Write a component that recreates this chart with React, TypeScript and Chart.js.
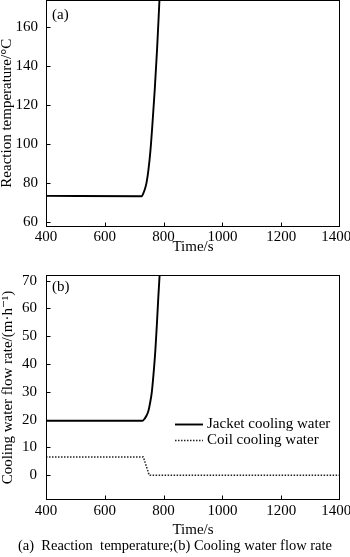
import React, { useEffect, useRef } from "react";
import { Chart, registerables } from "chart.js";
Chart.register(...registerables);

// ---- data ----
const timeTicks = [400, 600, 800, 1000, 1200, 1400];
const tempTicks = [60, 80, 100, 120, 140, 160];
const flowTicks = [0, 10, 20, 30, 40, 50, 60, 70];

const tempTime = [400, 725, 731, 737, 742, 748, 755, 762, 770, 778, 786];
const tempValues = [73.2, 73.0, 74.5, 77, 80, 86, 96, 110, 128, 149, 174];

const jacketTime = [400, 728, 735, 742, 748, 754, 760, 767, 772, 777, 782, 787];
const jacketValues = [19.6, 19.6, 20.3, 21.5, 23, 26, 30, 38, 45, 54, 64, 73];

const coilTime = [400, 731, 751, 1400];
const coilValues = [6.6, 6.6, 0, 0];

const caption = "(a)  Reaction  temperature;(b) Cooling water flow rate";

const FAMILY = "'Liberation Serif', 'Times New Roman', 'DejaVu Serif', serif";
const font15 = { family: FAMILY, size: 15, lineHeight: 1.2 };

const framePlugin = {
  id: "frame",
  afterDraw(chart: any, _args: any, opts: any) {
    const { ctx, chartArea, scales } = chart;
    const L = Math.round(chartArea.left) + 0.5;
    const R = Math.round(chartArea.right) - 0.5;
    const T = Math.round(chartArea.top) + 0.5;
    const B = Math.round(chartArea.bottom) - 0.5;
    ctx.save();
    ctx.strokeStyle = "#000";
    ctx.lineWidth = 1;
    ctx.strokeRect(L, T, R - L, B - T);
    ctx.beginPath();
    for (const t of scales.x.ticks) {
      const px = Math.min(R, Math.max(L, Math.round(scales.x.getPixelForValue(t.value)) + 0.5));
      ctx.moveTo(px, B);
      ctx.lineTo(px, B - 4);
    }
    for (const t of scales.y.ticks) {
      const py = Math.min(B, Math.max(T, Math.round(scales.y.getPixelForValue(t.value)) + 0.5));
      ctx.moveTo(L, py);
      ctx.lineTo(L + 4, py);
    }
    ctx.stroke();
    ctx.fillStyle = "#000";
    ctx.font = `15px ${FAMILY}`;
    ctx.textBaseline = "middle";
    ctx.textAlign = "left";
    if (opts.tag) ctx.fillText(opts.tag, chartArea.left + 6, chartArea.top + opts.tagDy);
    if (opts.legend) {
      const x0 = chartArea.left + 129;
      const x1 = chartArea.left + 157;
      let y = chartArea.top + 149;
      for (const ds of chart.data.datasets) {
        ctx.save();
        ctx.strokeStyle = ds.borderColor;
        ctx.lineWidth = ds.borderWidth;
        ctx.setLineDash(ds.borderDash || []);
        ctx.beginPath();
        ctx.moveTo(x0, Math.round(y) + 0.5);
        ctx.lineTo(x1, Math.round(y) + 0.5);
        ctx.stroke();
        ctx.restore();
        ctx.fillText(ds.label, x1 + 4, y);
        y += 16;
      }
    }
    ctx.restore();
  },
};

const xLabel = (v: any) => (v === 1400 ? "1400\u2007" : String(v));

function makeXScale(tickPad: number, titlePadTop: number) {
  return {
    type: "linear",
    min: 400,
    max: 1400,
    afterBuildTicks: (s: any) => {
      s.ticks = timeTicks.map((v) => ({ value: v }));
    },
    grid: { display: false, drawTicks: false, tickLength: 0 },
    border: { display: false },
    ticks: { padding: tickPad, font: font15, color: "#000", maxRotation: 0, autoSkip: false, callback: xLabel },
    title: { display: true, text: "Time/s", font: font15, color: "#000", padding: { top: titlePadTop, bottom: 0 } },
  };
}

function makeYScale(min: number, max: number, ticks: number[], title: string, tickPad: number, titlePadBottom: number) {
  return {
    type: "linear",
    min,
    max,
    afterBuildTicks: (s: any) => {
      s.ticks = ticks.map((v) => ({ value: v }));
    },
    grid: { display: false, drawTicks: false, tickLength: 0 },
    border: { display: false },
    ticks: { padding: tickPad, font: font15, color: "#000", autoSkip: false, callback: (v: any) => String(v) },
    title: { display: true, text: title, font: font15, color: "#000", padding: { top: 0, bottom: titlePadBottom } },
  };
}

function ChartCanvas({ config, width, height, left, top }: any) {
  const ref = useRef<HTMLCanvasElement>(null);
  useEffect(() => {
    const chart = new Chart(ref.current as HTMLCanvasElement, config);
    return () => chart.destroy();
  }, []);
  return (
    <canvas
      ref={ref}
      width={width}
      height={height}
      style={{ position: "absolute", left, top, width, height }}
    />
  );
}

const topConfig: any = {
  type: "line",
  data: {
    datasets: [
      {
        label: "Reaction temperature",
        data: tempTime.map((t, i) => ({ x: t, y: tempValues[i] })),
        borderColor: "#000",
        borderWidth: 1.9,
        pointRadius: 0,
        cubicInterpolationMode: "monotone",
        fill: false,
      },
    ],
  },
  options: {
    responsive: false,
    animation: false,
    devicePixelRatio: 1,
    layout: { padding: { left: 0, right: 22, top: 0, bottom: 0 } },
    plugins: { legend: { display: false }, tooltip: { enabled: false }, frame: { tag: "(a)", tagDy: 15 } },
    scales: {
      x: makeXScale(2, -10.5),
      y: makeYScale(57.5, 173.7, tempTicks, "Reaction temperature/\u00B0C", 8, -8.5),
    },
  },
  plugins: [framePlugin],
};

const bottomConfig: any = {
  type: "line",
  data: {
    datasets: [
      {
        label: "Jacket cooling water",
        data: jacketTime.map((t, i) => ({ x: t, y: jacketValues[i] })),
        borderColor: "#000",
        borderWidth: 1.9,
        pointRadius: 0,
        cubicInterpolationMode: "monotone",
        fill: false,
      },
      {
        label: "Coil cooling water",
        data: coilTime.map((t, i) => ({ x: t, y: coilValues[i] })),
        borderColor: "#222",
        borderWidth: 1.5,
        borderDash: [1.5, 1.5],
        pointRadius: 0,
        tension: 0,
        fill: false,
      },
    ],
  },
  options: {
    responsive: false,
    animation: false,
    devicePixelRatio: 1,
    layout: { padding: { left: 0, right: 22, top: 0, bottom: 0 } },
    plugins: { legend: { display: false }, tooltip: { enabled: false }, frame: { tag: "(b)", tagDy: 12.5, legend: true } },
    scales: {
      x: makeXScale(2, -1),
      y: makeYScale(-8.9, 72.05, flowTicks, "Cooling water flow rate/(m\u00B7h\u207B\u00B9)", 9, -4),
    },
  },
  plugins: [framePlugin],
};

export default function App() {
  return (
    <div
      style={{
        position: "fixed",
        left: 0,
        top: 0,
        width: 350,
        height: 557,
        overflow: "hidden",
        background: "#fff",
      }}
    >
      <ChartCanvas config={topConfig} width={364} height={273} left={-2} top={-17} />
      <ChartCanvas config={bottomConfig} width={363} height={282} left={-1} top={257} />
      <div
        style={{
          position: "absolute",
          left: 0,
          top: 536,
          width: 350,
          textAlign: "center",
          whiteSpace: "pre",
          fontFamily: FAMILY,
          fontSize: 14.5,
          lineHeight: "18px",
          color: "#000",
        }}
      >
        {caption}
      </div>
    </div>
  );
}
